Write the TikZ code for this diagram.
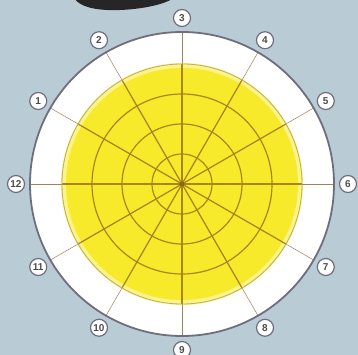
\documentclass[tikz,border=0pt]{standalone}
\usepackage{fontspec}
\setsansfont{Liberation Sans}
\definecolor{bgblue}{HTML}{B9CCD5}
\definecolor{dialyel}{HTML}{F6EA2A}
\definecolor{gridbrn}{HTML}{A8861C}
\definecolor{rimgray}{HTML}{6E6E7C}
\tikzset{
  clocklbl/.style={draw=rimgray,fill=white,circle,line width=1.2pt,inner sep=1pt,minimum size=17pt,font=\sffamily\bfseries,text=black!70},
  gridline/.style={gridbrn,line width=1.2pt},
  faintline/.style={brown!60!gray,line width=0.5pt}
}
\begin{document}
\begin{tikzpicture}[x=1pt,y=1pt]
  \useasboundingbox[fill=bgblue] (-182,-171) rectangle (176,184);
  % shadow at the top edge
  \fill[black!85] (-108,186) -- (-8,186) .. controls (-20,178) and (-50,173) .. (-75,174) .. controls (-95,175) and (-104,180) .. (-108,186) -- cycle;
  \coordinate (c) at (0,0);
  % dial
  \fill[white] (c) circle (152);
  \fill[dialyel!55] (c) circle (121);
  \fill[dialyel] (c) circle (116);
  \foreach \a in {0,30,...,330}
    \draw[faintline] (c) -- (\a:152);
  \begin{scope}
    \clip (c) circle (120);
    \foreach \a in {0,30,...,330}
      \draw[gridline] (c) -- (\a:120);
  \end{scope}
  \foreach \r in {30,60,90}
    \draw[gridline] (c) circle (\r);
  \draw[gridbrn!70,line width=0.8pt] (c) circle (120);
  \fill[gridbrn!80!black] (c) circle (2.5);
  \draw[rimgray,line width=1.8pt] (c) circle (152);
  % clock numbers
  \foreach \k in {1,...,12}
    \node[clocklbl] (n\k) at ({180-30*\k}:166) {\k};
\end{tikzpicture}
\end{document}
